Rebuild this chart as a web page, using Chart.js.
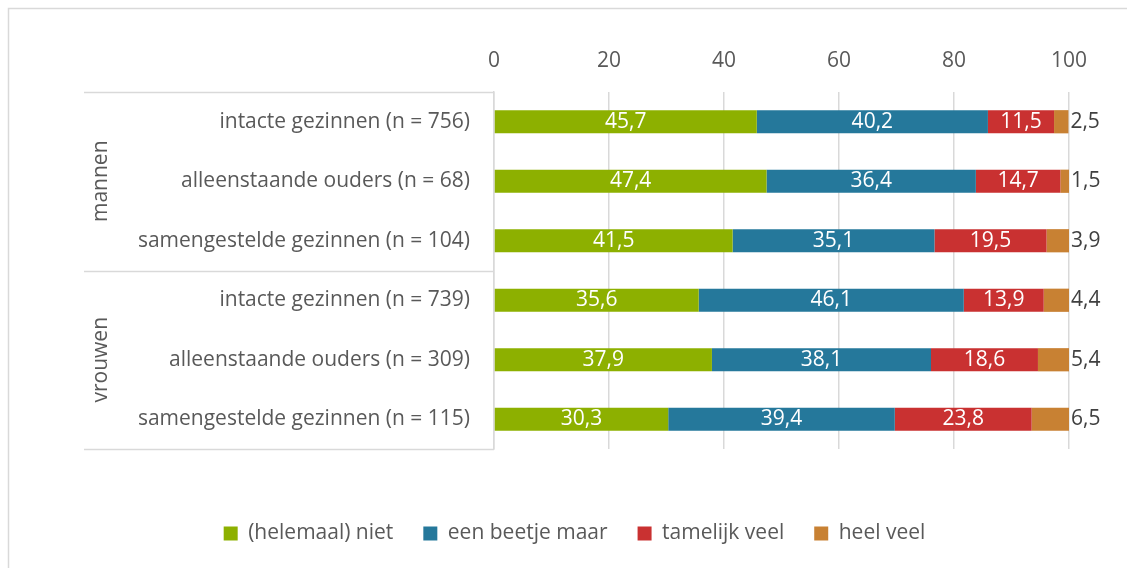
<!DOCTYPE html>
<html>
<head>
<meta charset="utf-8">
<script src="https://cdn.jsdelivr.net/npm/chart.js@4/dist/chart.umd.min.js"></script>
<style>
html,body{margin:0;padding:0;background:#fff;}
#wrap{width:1127px;height:568px;position:relative;}
</style>
</head>
<body>
<div id="wrap"><canvas id="c" width="1127" height="568"></canvas></div>
<script>
const categories = ['intacte gezinnen (n = 756)', 'alleenstaande ouders (n = 68)', 'samengestelde gezinnen (n = 104)', 'intacte gezinnen (n = 739)', 'alleenstaande ouders (n = 309)', 'samengestelde gezinnen (n = 115)'];
const groups = ['mannen', 'vrouwen'];
const groupSizes = [3, 3];
const seriesNames = ['(helemaal) niet', 'een beetje maar', 'tamelijk veel', 'heel veel'];
const niet = [45.7, 47.4, 41.5, 35.6, 37.9, 30.3];
const beetje = [40.2, 36.4, 35.1, 46.1, 38.1, 39.4];
const tamelijk = [11.5, 14.7, 19.5, 13.9, 18.6, 23.8];
const heel = [2.5, 1.5, 3.9, 4.4, 5.4, 6.5];
const xTicks = [0, 20, 40, 60, 80, 100];

const colors = ['#8DB000', '#25789B', '#C93131', '#C88133'];
const FONT = "'Open Sans', sans-serif";
const FS = 21;
const TXT = '#595959';

const fmt = v => v.toFixed(1).replace('.', ',');

const extras = {
  id: 'extras',
  beforeDraw(chart) {
    const ctx = chart.ctx;
    ctx.save();
    ctx.strokeStyle = '#d9d9d9';
    ctx.lineWidth = 1.5;
    ctx.beginPath();
    ctx.moveTo(8.5, 1200); ctx.lineTo(8.5, 8.5); ctx.lineTo(1200, 8.5);
    ctx.stroke();
    ctx.restore();
  },
  afterDraw(chart) {
    const ctx = chart.ctx;
    const ys = chart.scales.y;
    const area = chart.chartArea;
    ctx.save();
    ctx.strokeStyle = '#d9d9d9';
    ctx.lineWidth = 1.5;
    const bounds = [area.top];
    let idx = 0;
    groupSizes.forEach(n => {
      idx += n;
      if (idx < categories.length) {
        bounds.push((ys.getPixelForValue(idx - 1) + ys.getPixelForValue(idx)) / 2);
      }
    });
    bounds.push(area.bottom);
    bounds.forEach(b => {
      ctx.beginPath();
      ctx.moveTo(84, Math.round(b) + 0.5);
      ctx.lineTo(area.left, Math.round(b) + 0.5);
      ctx.stroke();
    });
    ctx.fillStyle = TXT;
    ctx.font = FS + 'px ' + FONT;
    ctx.textAlign = 'center';
    ctx.textBaseline = 'middle';
    groups.forEach((g, i) => {
      const mid = (bounds[i] + bounds[i + 1]) / 2;
      ctx.save();
      ctx.translate(101, mid);
      ctx.rotate(-Math.PI / 2);
      ctx.fillText(g, 0, 0);
      ctx.restore();
    });
    chart.data.datasets.forEach((ds, di) => {
      const meta = chart.getDatasetMeta(di);
      meta.data.forEach((bar, i) => {
        const v = ds.data[i];
        if (di === chart.data.datasets.length - 1) {
          ctx.fillStyle = '#404040';
          ctx.textAlign = 'left';
          ctx.fillText(fmt(v), bar.x + 2, bar.y);
        } else {
          ctx.fillStyle = '#ffffff';
          ctx.textAlign = 'center';
          ctx.fillText(fmt(v), (bar.x + bar.base) / 2, bar.y);
        }
      });
    });
    ctx.restore();
  }
};

const dataArrays = [niet, beetje, tamelijk, heel];
new Chart(document.getElementById('c'), {
  type: 'bar',
  data: {
    labels: categories,
    datasets: dataArrays.map((d, i) => ({
      label: seriesNames[i],
      data: d,
      backgroundColor: colors[i],
      borderWidth: 0,
      categoryPercentage: 1,
      barPercentage: 0.39
    }))
  },
  options: {
    indexAxis: 'y',
    responsive: false,
    animation: false,
    layout: { padding: { left: 22, right: 0, top: 0, bottom: 14 } },
    scales: {
      x: {
        position: 'top',
        stacked: true,
        min: 0, max: 100,
        afterBuildTicks(s) { s.ticks = xTicks.map(v => ({ value: v })); },
        afterFit(s) { s.height = 92; },
        grid: { display: true, color: '#d9d9d9', lineWidth: 1.5, drawTicks: false },
        border: { display: false },
        ticks: { color: TXT, font: { family: FONT, size: FS }, padding: 18 }
      },
      y: {
        stacked: true,
        afterFit(s) { s.width = 472; },
        grid: { display: false, drawTicks: false },
        border: { display: true, color: '#d9d9d9', width: 1.5 },
        ticks: { color: TXT, font: { family: FONT, size: FS }, padding: 24 }
      },
      yr: {
        type: 'category',
        position: 'right',
        display: true,
        afterFit(s) { s.width = 58; },
        grid: { display: false, drawTicks: false },
        border: { display: false },
        ticks: { display: false }
      }
    },
    plugins: {
      legend: {
        position: 'bottom',
        title: { display: true, text: '', padding: { top: 32, bottom: 0 }, font: { size: 10 } },
        labels: {
          color: TXT,
          font: { family: FONT, size: FS },
          boxWidth: 14, boxHeight: 14,
          padding: 30
        }
      },
      tooltip: { enabled: false }
    }
  },
  plugins: [extras]
});
</script>
</body>
</html>
